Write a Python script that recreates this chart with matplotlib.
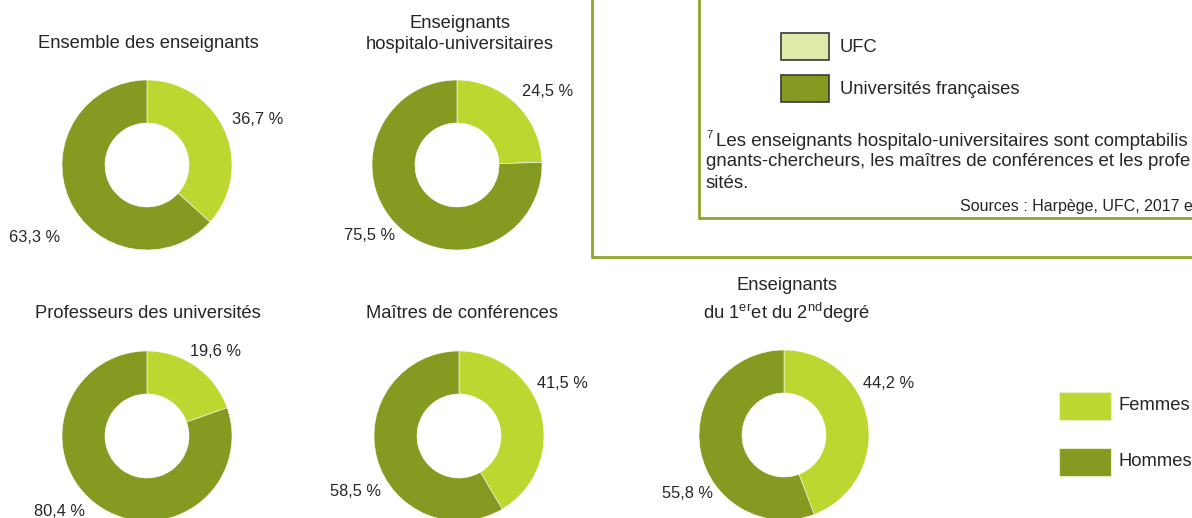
import matplotlib
matplotlib.use("Agg")
import matplotlib.pyplot as plt
from matplotlib.patches import Rectangle

plt.rcParams['font.family'] = ['Liberation Sans', 'DejaVu Sans']
plt.rcParams['mathtext.fontset'] = 'custom'
plt.rcParams['mathtext.rm'] = 'Liberation Sans'

# --- data ---
titles = [
    "Ensemble des enseignants",
    "Enseignants\nhospitalo-universitaires",
    "Professeurs des universités",
    "Maîtres de conférences",
    "Enseignants\ndu 1$^{\\mathregular{er}}$et du 2$^{\\mathregular{nd}}$degré",
]
femmes = [36.7, 24.5, 19.6, 41.5, 44.2]
hommes = [63.3, 75.5, 80.4, 58.5, 55.8]
series = ["Femmes", "Hommes"]
comparison = ["UFC", "Universités françaises"]
# footnote as visible in the (cropped) picture
foot = ["Les enseignants hospitalo-universitaires sont comptabilis",
        "gnants-chercheurs, les maîtres de conférences et les profe",
        "sités."]
source = "Sources : Harpège, UFC, 2017 e"

# --- layout (pixels) ---
centers = [(147, 165), (457, 165), (147, 436), (459, 436), (784, 435)]
title_pos = [(148, 44), (460, 34), (148, 313), (462, 313), (787, 301)]
f_lab = [(258, 119), (548, 91), (216, 352), (562, 384), (889, 383)]
h_lab = [(35, 237), (370, 236), (60, 512), (355, 491), (687, 494)]
R, W = 85, 43

C_F = "#bdd731"
C_H = "#849a21"
C_UFC = "#dfe9a8"
C_BOX = "#8fa52b"
TXT = "#262626"

fig = plt.figure(figsize=(11.92, 5.18), dpi=100)
ax = fig.add_axes([0, 0, 1, 1])

for i in range(len(titles)):
    ax.pie([femmes[i], hommes[i]], colors=[C_F, C_H], startangle=-90,
           counterclock=True, radius=R, center=centers[i],
           wedgeprops=dict(width=W, edgecolor='white', linewidth=0.4))
    ax.text(*title_pos[i], titles[i], ha='center', va='center',
            fontsize=13.2, color=TXT, linespacing=1.35)
    ax.text(*f_lab[i], f"{femmes[i]:.1f} %".replace('.', ','),
            ha='center', va='center', fontsize=11.8, color=TXT)
    ax.text(*h_lab[i], f"{hommes[i]:.1f} %".replace('.', ','),
            ha='center', va='center', fontsize=11.8, color=TXT)

# framed boxes (top and right edges run off the picture)
ax.plot([592, 592, 1300], [-10, 257, 257], color=C_BOX, lw=2, solid_joinstyle='miter')
ax.plot([699, 699, 1300], [-10, 218, 218], color=C_BOX, lw=2, solid_joinstyle='miter')

# UFC / France legend
for j, (lab, col) in enumerate(zip(comparison, [C_UFC, C_H])):
    y0 = 33 + j * 42
    ax.add_patch(Rectangle((781, y0), 48, 27, facecolor=col, edgecolor='#3a3a3a', lw=1.2))
    ax.text(840, y0 + 14, lab, ha='left', va='center', fontsize=13.2, color=TXT)

# footnote
ax.text(706, 135, "7", ha='left', va='center', fontsize=8, color=TXT)
ax.text(716, 141, foot[0], ha='left', va='center', fontsize=13.5, color=TXT)
ax.text(706, 162, foot[1], ha='left', va='center', fontsize=13.45, color=TXT)
ax.text(706, 183, foot[2], ha='left', va='center', fontsize=13.45, color=TXT)
ax.text(960, 206, source, ha='left', va='center', fontsize=11.5, color=TXT)

# Femmes / Hommes legend
for j, (lab, col) in enumerate(zip(series, [C_F, C_H])):
    y0 = 392 + j * 56
    ax.add_patch(Rectangle((1059, y0), 52, 28, facecolor=col, edgecolor='#e6efc0', lw=0.8))
    ax.text(1119, y0 + 13, lab, ha='left', va='center', fontsize=13.2, color=TXT)

ax.set_xlim(0, 1192)
ax.set_ylim(518, 0)
ax.set_aspect('auto')
ax.axis('off')

fig.savefig("out.png", dpi=100, facecolor='white')
